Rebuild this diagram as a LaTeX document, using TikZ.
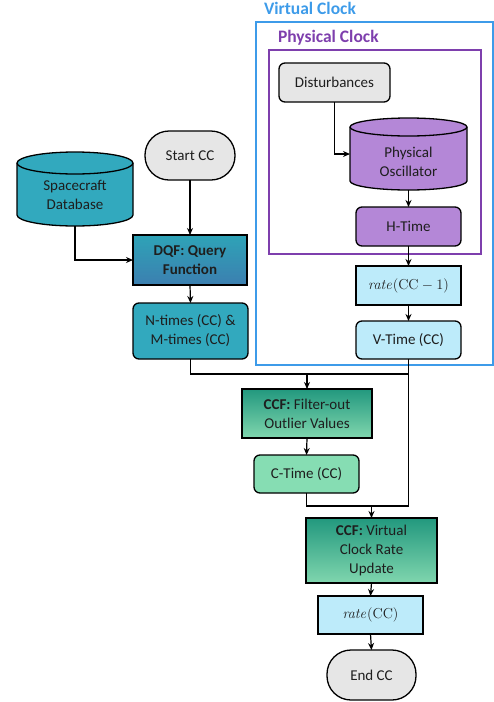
\documentclass[tikz,border=0pt]{standalone}
\usepackage[no-math]{fontspec}
\setmainfont{Carlito}
\usetikzlibrary{calc,arrows.meta}
\definecolor{vblue}{RGB}{61,155,233}
\definecolor{ppurple}{RGB}{126,63,173}
\definecolor{lpurple}{RGB}{180,135,215}
\definecolor{lgray}{RGB}{230,230,230}
\definecolor{teal1}{RGB}{50,169,190}
\definecolor{dqftop}{RGB}{46,163,183}
\definecolor{dqfbot}{RGB}{60,127,176}
\definecolor{ccftop}{RGB}{34,152,126}
\definecolor{ccfbot}{RGB}{128,214,174}
\definecolor{lgreen}{RGB}{134,221,179}
\definecolor{lblue}{RGB}{189,235,250}
\definecolor{txt}{RGB}{30,30,30}
\newcommand\mycyl[4]{% name, style, x radius, y radius
  \path[#2] ($(#1.north west)+(0,-#4)$) -- ($(#1.south west)+(0,#4)$)
    arc[start angle=180,end angle=360,x radius=#3,y radius=#4]
    -- ($(#1.north east)+(0,-#4)$)
    arc[start angle=0,end angle=180,x radius=#3,y radius=#4] -- cycle;
  \draw[line width=1.3pt] ($(#1.north west)+(0,-#4)$)
    arc[start angle=180,end angle=360,x radius=#3,y radius=#4];}
\begin{document}
\begin{tikzpicture}[x=1pt,y=1pt,
  every node/.style={inner sep=0pt, outer sep=0pt},
  box/.style={draw=black, line width=1.3pt, align=center, text=txt,
    font=\fontsize{15}{19}\selectfont},
  rbox/.style={box, rounded corners=6pt},
  stad/.style={box, rounded corners=24pt},
  cylshape/.style={draw=black, line width=1.3pt},
  lbl/.style={align=center, text=txt, font=\fontsize{15}{19}\selectfont},
  hdr/.style={anchor=west, font=\fontsize{17.5}{20}\selectfont\bfseries},
  frame/.style={draw, line width=1.6pt},
  arr/.style={draw=black, line width=1.2pt, -{Stealth[length=7pt,width=6pt]}},
  ln/.style={draw=black, line width=1.2pt}]
\useasboundingbox (0,0) rectangle (494,-702);
% frames
\node[frame, draw=vblue, minimum width=237, minimum height=343] (vframe) at (374.5,-193.5) {};
\node[hdr, text=vblue] (vlabel) at (264,-8) {Virtual Clock};
\node[frame, draw=ppurple, minimum width=212, minimum height=204] (pframe) at (375,-152) {};
\node[hdr, text=ppurple] (plabel) at (278,-38) {Physical Clock};
% nodes
\node[rbox, fill=lgray, minimum width=111, minimum height=39] (dist) at (334.5,-82.5) {Disturbances};
\node[minimum width=117, minimum height=72] (osc) at (408.5,-154) {};
\mycyl{osc}{cylshape, fill=lpurple}{58.5}{9}
\node[lbl] (osclbl) at ($(osc.center)+(0,-8)$) {Physical\\Oscillator};
\node[rbox, fill=lpurple, minimum width=105, minimum height=39] (htime) at (408.5,-226.5) {H-Time};
\node[box, fill=lblue, minimum width=105, minimum height=39] (rate1) at (408.5,-285.5) {$\mathit{rate}(\mathrm{CC}-1)$};
\node[rbox, fill=lblue, minimum width=105, minimum height=38] (vtime) at (408.5,-340) {V-Time (CC)};
\node[stad, fill=lgray, minimum width=90, minimum height=49] (start) at (190,-155.5) {Start CC};
\node[minimum width=116, minimum height=74] (db) at (75,-189) {};
\mycyl{db}{cylshape, fill=teal1}{58}{11}
\node[lbl] (dblbl) at ($(db.center)+(0,-6)$) {Spacecraft\\Database};
\node[box, top color=dqftop, bottom color=dqfbot, minimum width=114, minimum height=50, font=\fontsize{15}{19}\selectfont\bfseries] (dqf) at (190,-260) {DQF: Query\\Function};
\node[rbox, fill=teal1, minimum width=115, minimum height=56] (ntimes) at (190.5,-331) {N-times (CC) \&\\M-times (CC)};
\node[box, top color=ccftop, bottom color=ccfbot, minimum width=130, minimum height=49] (filt) at (307,-413.5) {\textbf{CCF:} Filter-out\\Outlier Values};
\node[rbox, fill=lgreen, minimum width=105, minimum height=38] (ctime) at (306.5,-474) {C-Time (CC)};
\node[box, top color=ccftop, bottom color=ccfbot, minimum width=131, minimum height=65] (virt) at (371.5,-550.5) {\textbf{CCF:} Virtual\\Clock Rate\\Update};
\node[box, fill=lblue, minimum width=105, minimum height=38] (rate) at (370.5,-615) {$\mathit{rate}(\mathrm{CC})$};
\node[stad, fill=lgray, minimum width=89, minimum height=50] (endcc) at (371.5,-675) {End CC};
% connectors
\draw[arr] (dist.south) |- (osc.west);
\draw[arr] (osc.south) -- (htime.north);
\draw[arr] (htime.south) -- (rate1.north);
\draw[arr] (rate1.south) -- (vtime.north);
\draw[arr] (start.south) -- (dqf.north);
\draw[arr] (db.south) |- (dqf.west);
\draw[arr] (dqf.south) -- (ntimes.north);
\coordinate (m1) at ($(filt.north)+(0,15)$);
\coordinate (m2) at ($(virt.north)+(0,12)$);
\draw[ln] (ntimes.south) |- (m1) -- (vtime.south |- m1);
\draw[arr] (m1) -- (filt.north);
\draw[arr] (filt.south) -- (ctime.north);
\draw[ln] (vtime.south) |- (m2);
\draw[ln] (ctime.south) |- (m2);
\draw[arr] (m2) -- (virt.north);
\draw[arr] (virt.south) -- (rate.north);
\draw[arr] (rate.south) -- (endcc.north);
\end{tikzpicture}
\end{document}
